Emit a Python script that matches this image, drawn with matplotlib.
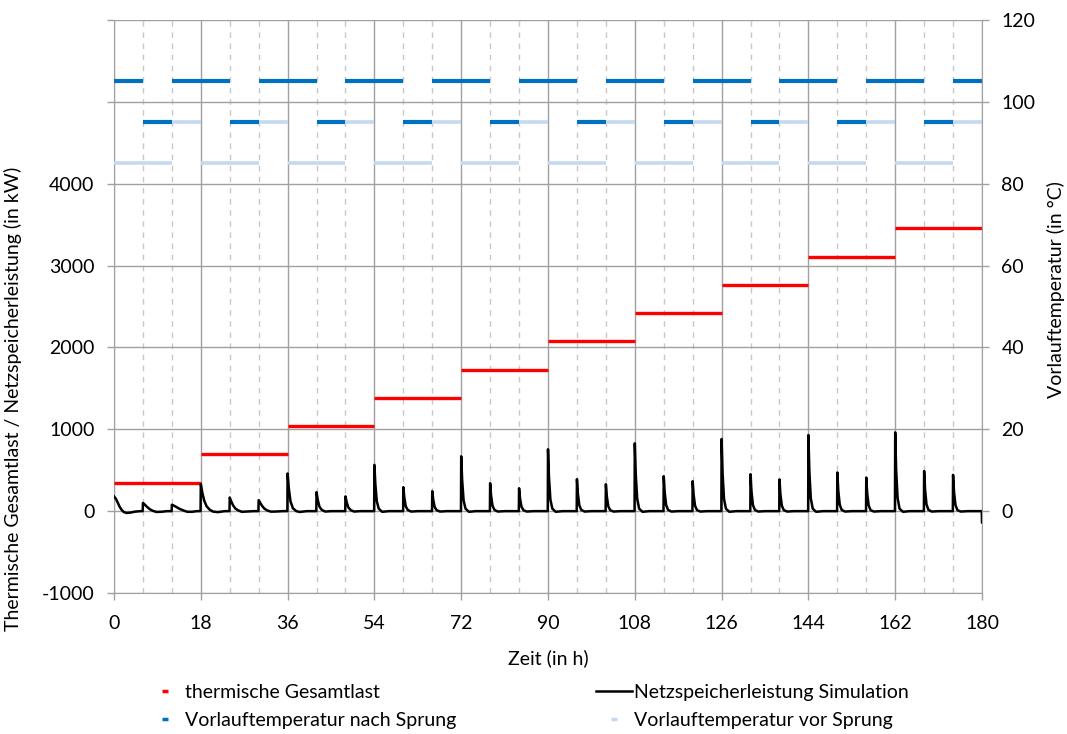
"""
Netzspeicher-Simulation: thermische Gesamtlast, Netzspeicherleistung und
Vorlauftemperatur vor / nach Sprung ueber 180 h.

Ausgabe: out.png
"""
import matplotlib
matplotlib.use('Agg')
import matplotlib.pyplot as plt
from matplotlib.lines import Line2D
import numpy as np

plt.rcParams['font.family'] = ['Lato', 'DejaVu Sans']

# thermische Gesamtlast (kW), Stufen je 18 h
last_start = [0, 18, 36, 54, 72, 90, 108, 126, 144, 162]
last_ende = [18, 36, 54, 72, 90, 108, 126, 144, 162, 180]
last_wert = [345, 695, 1037, 1380, 1730, 2075, 2420, 2765, 3110, 3455]

# Vorlauftemperatur nach Sprung (°C)
nach_start = [0, 6, 12, 24, 30, 42, 48, 60, 66, 78, 84, 96, 102, 114, 120, 132, 138, 150, 156, 168, 174]
nach_ende = [6, 12, 24, 30, 42, 48, 60, 66, 78, 84, 96, 102, 114, 120, 132, 138, 150, 156, 168, 174, 180]
nach_wert = [105, 95, 105, 95, 105, 95, 105, 95, 105, 95, 105, 95, 105, 95, 105, 95, 105, 95, 105, 95, 105]

# Vorlauftemperatur vor Sprung (°C)
vor_start = [0, 12, 18, 30, 36, 48, 54, 66, 72, 84, 90, 102, 108, 120, 126, 138, 144, 156, 162, 174]
vor_ende = [12, 18, 30, 36, 48, 54, 66, 72, 84, 90, 102, 108, 120, 126, 138, 144, 156, 162, 174, 180]
vor_wert = [85, 95, 85, 95, 85, 95, 85, 95, 85, 95, 85, 95, 85, 95, 85, 95, 85, 95, 85, 95]

# Netzspeicherleistung Simulation (h, kW), eine Zeile je Spitze
netz_spitzen = [
    [(0, 180), (0.4, 150), (0.8, 100), (1.2, 50), (1.6, 15), (2.0, -10), (2.6, -22), (3.4, -18), (4.4, -6), (5.5, 0), (5.95, 0)],
    [(6, 100), (6.4, 80), (6.8, 55), (7.4, 25), (8.0, 5), (8.8, -10), (9.8, -8), (11, 0), (11.95, 0)],
    [(12, 78), (12.4, 68), (13, 48), (13.6, 28), (14.4, 8), (15.2, -8), (16.2, -8), (17.2, 0), (17.95, 0)],
    [(18, 330), (18.3, 230), (18.7, 130), (19.2, 60), (19.8, 20), (20.5, -5), (21.5, -12), (23, 0), (23.95, 0)],
    [(24, 167), (24.3, 120), (24.7, 70), (25.2, 30), (25.8, 8), (26.5, -8), (27.5, -5), (29, 0), (29.95, 0)],
    [(30, 134), (30.3, 105), (30.7, 65), (31.2, 30), (31.8, 8), (32.5, -6), (33.5, -5), (35, 0), (35.95, 0)],
    [(36, 460), (36.25, 280), (36.6, 120), (37.1, 35), (37.8, 0), (38.5, -10), (40, 0), (41.95, 0)],
    [(42, 232), (42.25, 140), (42.6, 55), (43.1, 15), (43.8, -5), (45, 0), (47.95, 0)],
    [(48, 180), (48.25, 110), (48.6, 45), (49.1, 12), (49.8, -5), (51, 0), (53.95, 0)],
    [(54, 565), (54.2, 330), (54.5, 120), (54.9, 30), (55.6, -8), (57, 0), (59.95, 0)],
    [(60, 293), (60.2, 170), (60.5, 60), (60.9, 15), (61.6, -5), (63, 0), (65.95, 0)],
    [(66, 244), (66.2, 140), (66.5, 50), (66.9, 12), (67.6, -5), (69, 0), (71.95, 0)],
    [(72, 670), (72.2, 380), (72.5, 130), (72.9, 30), (73.6, -8), (75, 0), (77.95, 0)],
    [(78, 341), (78.2, 190), (78.5, 65), (78.9, 15), (79.6, -5), (81, 0), (83.95, 0)],
    [(84, 280), (84.2, 155), (84.5, 55), (84.9, 12), (85.6, -5), (87, 0), (89.95, 0)],
    [(90, 756), (90.2, 420), (90.5, 140), (90.9, 30), (91.6, -8), (93, 0), (95.95, 0)],
    [(96, 390), (96.2, 215), (96.5, 70), (96.9, 15), (97.6, -5), (99, 0), (101.95, 0)],
    [(102, 329), (102.2, 180), (102.5, 60), (102.9, 12), (103.6, -5), (105, 0), (107.95, 0)],
    [(108, 829), (108.2, 450), (108.5, 150), (108.9, 30), (109.6, -8), (111, 0), (113.95, 0)],
    [(114, 427), (114.2, 230), (114.5, 75), (114.9, 15), (115.6, -5), (117, 0), (119.95, 0)],
    [(120, 366), (120.2, 200), (120.5, 65), (120.9, 12), (121.6, -5), (123, 0), (125.95, 0)],
    [(126, 882), (126.2, 470), (126.5, 150), (126.9, 30), (127.6, -8), (129, 0), (131.95, 0)],
    [(132, 451), (132.2, 240), (132.5, 75), (132.9, 15), (133.6, -5), (135, 0), (137.95, 0)],
    [(138, 386), (138.2, 205), (138.5, 65), (138.9, 12), (139.6, -5), (141, 0), (143.95, 0)],
    [(144, 930), (144.2, 490), (144.5, 155), (144.9, 30), (145.6, -8), (147, 0), (149.95, 0)],
    [(150, 472), (150.2, 250), (150.5, 80), (150.9, 15), (151.6, -5), (153, 0), (155.95, 0)],
    [(156, 410), (156.2, 215), (156.5, 70), (156.9, 12), (157.6, -5), (159, 0), (161.95, 0)],
    [(162, 962), (162.2, 500), (162.5, 160), (162.9, 30), (163.6, -8), (165, 0), (167.95, 0)],
    [(168, 490), (168.2, 260), (168.5, 80), (168.9, 15), (169.6, -5), (171, 0), (173.95, 0)],
    [(174, 443), (174.2, 235), (174.5, 75), (174.9, 12), (175.6, -5), (177, 0), (179.95, 0)],
    [(180, -137)],
]

x_ticks = [0, 18, 36, 54, 72, 90, 108, 126, 144, 162, 180]
y_ticks = [-1000, 0, 1000, 2000, 3000, 4000, 5000, 6000]
y_labels = ['-1000', '0', '1000', '2000', '3000', '4000', '', '']
temp_ticks = [0, 20, 40, 60, 80, 100, 120]

ROT = '#FF0000'
BLAU = '#0070C0'
HELLBLAU = '#C5D9F1'
GRAU = '#A0A0A0'
FS = 14

fig = plt.figure(figsize=(10.67, 7.34), dpi=100)
ax = fig.add_axes([114 / 1067, 1 - 593 / 734, 868 / 1067, 573 / 734])
ax2 = ax.twinx()

# Gitter
ax.set_xlim(0, 180)
ax.set_ylim(-1000, 6000)
ax.set_xticks(x_ticks)
ax.set_xticks(np.arange(0, 181, 6), minor=True)
ax.set_yticks(y_ticks)
ax.set_yticklabels(y_labels)
ax.grid(which='major', color=GRAU, linewidth=1.0)
ax.grid(which='minor', axis='x', color='#C8C8C8', linewidth=1.0, linestyle=(0, (4, 4)))
ax.set_axisbelow(True)

# thermische Gesamtlast
ax.hlines(last_wert, last_start, last_ende, color=ROT, linewidth=2.4, zorder=3)

# Netzspeicherleistung
netz_t = [p[0] for spitze in netz_spitzen for p in spitze]
netz_p = [p[1] for spitze in netz_spitzen for p in spitze]
ax.plot(netz_t, netz_p, color='black', linewidth=1.8, zorder=4)

# Vorlauftemperaturen (rechte Achse)
ax2.set_ylim(-20, 120)
ax2.set_yticks(temp_ticks)
ax2.hlines(vor_wert, vor_start, vor_ende, color=HELLBLAU, linewidth=2.6)
ax2.hlines(nach_wert, nach_start, nach_ende, color=BLAU, linewidth=3.0)

for a in (ax, ax2):
    for s in a.spines.values():
        s.set_visible(False)
    a.tick_params(which='major', length=5, width=1.0, color=GRAU, labelsize=FS, pad=9)
    a.tick_params(which='minor', length=0)
ax.tick_params(axis='x', pad=11)
ax.spines['left'].set_visible(True)
ax.spines['bottom'].set_visible(True)
ax.spines['left'].set_color(GRAU)
ax.spines['bottom'].set_color(GRAU)
ax2.spines['right'].set_visible(True)
ax2.spines['right'].set_color(GRAU)

ax.set_xlabel('Zeit (in h)', fontsize=FS, labelpad=12)
ax.set_ylabel('Thermische Gesamtlast / Netzspeicherleistung (in kW)', fontsize=FS)
ax.yaxis.set_label_coords(-0.106, 0.338)
ax2.set_ylabel('Vorlauftemperatur (in °C)', fontsize=FS)
ax2.yaxis.set_label_coords(1.075, 0.53)

# Legende
handles = [
    Line2D([], [], color=ROT, marker='_', markersize=4, markeredgewidth=2.5, linestyle='none'),
    Line2D([], [], color=BLAU, marker='_', markersize=4, markeredgewidth=2.5, linestyle='none'),
    Line2D([], [], color='black', linewidth=1.8),
    Line2D([], [], color=HELLBLAU, marker='_', markersize=4, markeredgewidth=2.5, linestyle='none'),
]
labels = ['thermische Gesamtlast', 'Vorlauftemperatur nach Sprung',
          'Netzspeicherleistung Simulation', 'Vorlauftemperatur vor Sprung']
fig.legend(handles, labels, loc='upper left', bbox_to_anchor=(147 / 1067, 1 - 684 / 734),
           ncol=2, frameon=False, fontsize=FS, handlelength=1.85, handletextpad=0.1,
           columnspacing=7.2, labelspacing=0.55, borderpad=0, borderaxespad=0)

fig.savefig('out.png', dpi=100)
plt.close(fig)
